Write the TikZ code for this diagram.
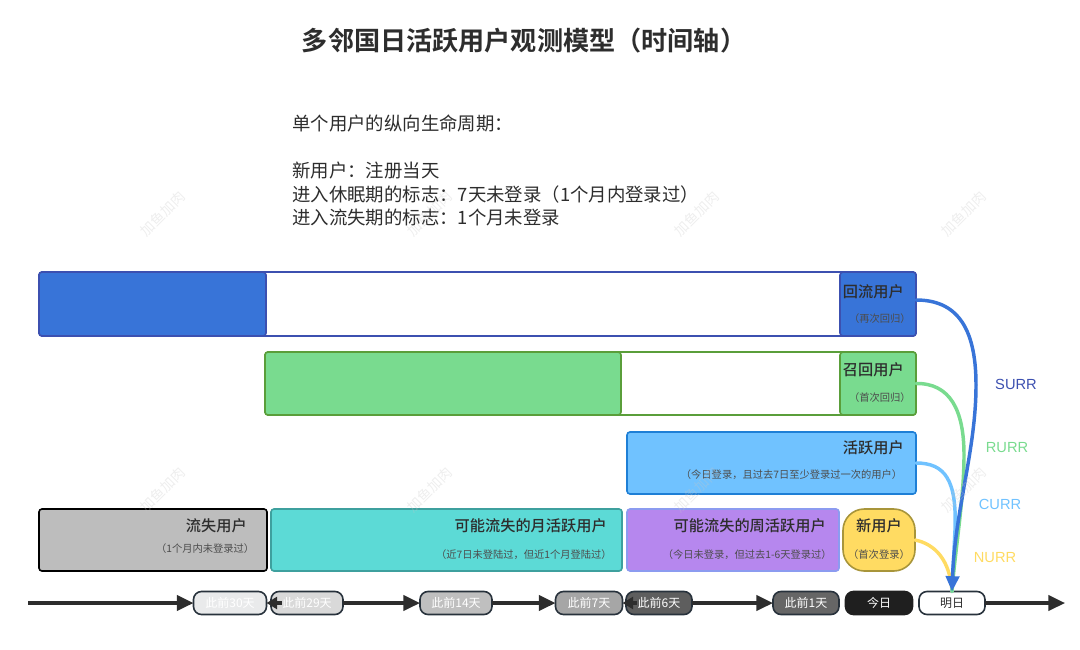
\documentclass[tikz,border=0pt]{standalone}
\usepackage{fontspec}
\usepackage{xcolor}
\setmainfont[BoldFont={Noto Sans CJK SC Medium}]{Noto Sans CJK SC}
\newfontfamily\titlefont{Noto Sans CJK SC Bold}
\newfontfamily\latinfont{Liberation Sans}
\usetikzlibrary{arrows.meta}
\definecolor{cBlue}{RGB}{56,116,216}
\definecolor{cBlueEdge}{RGB}{60,80,176}
\definecolor{cGreen}{RGB}{121,219,143}
\definecolor{cGreenEdge}{RGB}{90,158,58}
\definecolor{cSky}{RGB}{112,194,255}
\definecolor{cSkyEdge}{RGB}{30,127,214}
\definecolor{cTeal}{RGB}{92,218,214}
\definecolor{cTealEdge}{RGB}{62,160,158}
\definecolor{cPurple}{RGB}{182,135,238}
\definecolor{cPurpleEdge}{RGB}{140,155,240}
\definecolor{cYellow}{RGB}{255,219,98}
\definecolor{cYellowEdge}{RGB}{168,149,58}
\definecolor{cInk}{RGB}{45,45,45}
\definecolor{cPill}{RGB}{40,50,60}
\tikzset{
    userbox/.style={draw, rounded corners=2.25pt, line width=1.2pt, inner sep=0pt, outer sep=0pt, anchor=north west},
    headtext/.style={inner sep=0pt, text=cInk, font=\fontsize{11.4}{13}\selectfont\bfseries},
    subtext/.style={inner sep=0pt, text=cInk!85, font=\fontsize{7.7}{10}\selectfont},
    pill/.style={draw=cPill, rounded corners=6pt, line width=1.2pt, inner sep=0pt, outer sep=0pt, anchor=west,
        minimum height=23*0.75pt, text=white, font=\fontsize{9}{11}\selectfont},
    axisline/.style={line width=2.5pt, draw=cInk, -{Triangle[length=12.5pt,width=11.5pt]}},
    rate/.style={inner sep=0pt, font=\fontsize{11}{13}\selectfont\latinfont},
    flow/.style={line width=2.6pt, line cap=round},
    stamp/.style={inner sep=0pt, rotate=45, text=gray!45, opacity=0.3, font=\fontsize{10.5}{12}\selectfont}
}
\begin{document}
\begin{tikzpicture}[x=0.75pt, y=-0.75pt]
        \useasboundingbox (0,0) rectangle (1080,649);
        \node[inner sep=0pt, text=cInk, font=\fontsize{19.6}{24}\selectfont\titlefont] (title) at (524,41) {多邻国日活跃用户观测模型（时间轴）};
        \node[inner sep=0pt, anchor=north west, align=left, text=cInk, font=\fontsize{13.8}{17.6}\selectfont] (note) at (292,115) {单个用户的纵向生命周期：\\[17.6pt]新用户：注册当天\\进入休眠期的标志：7天未登录（1个月内登录过）\\进入流失期的标志：1个月未登录};

        % returning row
        \node[userbox, draw=cBlueEdge, fill=white, minimum width=877*0.75pt, minimum height=64*0.75pt] (backFrame) at (39,272) {};
        \node[userbox, draw=cBlueEdge, fill=cBlue, minimum width=227*0.75pt, minimum height=64*0.75pt] (backOld) at (39,272) {};
        \node[userbox, draw=cBlueEdge, fill=cBlue, minimum width=76*0.75pt, minimum height=64*0.75pt] (backNow) at (840,272) {};
        \node[headtext, anchor=east] (backHead) at (904,292) {回流用户};
        \node[subtext, anchor=east] (backSub) at (911,319) {（再次回归）};

        % recalled row
        \node[userbox, draw=cGreenEdge, fill=white, minimum width=651*0.75pt, minimum height=63*0.75pt] (recallFrame) at (265,352) {};
        \node[userbox, draw=cGreenEdge, fill=cGreen, minimum width=356*0.75pt, minimum height=63*0.75pt] (recallOld) at (265,352) {};
        \node[userbox, draw=cGreenEdge, fill=cGreen, minimum width=76*0.75pt, minimum height=63*0.75pt] (recallNow) at (840,352) {};
        \node[headtext, anchor=east] (recallHead) at (904,370) {召回用户};
        \node[subtext, anchor=east] (recallSub) at (911,398) {（首次回归）};

        % active row
        \node[userbox, draw=cSkyEdge, fill=cSky, minimum width=289*0.75pt, minimum height=62*0.75pt] (activeBox) at (627,432) {};
        \node[headtext, anchor=east] (activeHead) at (904,448) {活跃用户};
        \node[subtext, anchor=east] (activeSub) at (902.5,475) {（今日登录，且过去7日至少登录过一次的用户）};

        % bottom row
        \node[userbox, draw=black, fill=black!26, minimum width=228*0.75pt, minimum height=62*0.75pt] (lostBox) at (39,509) {};
        \node[headtext, anchor=east] (lostHead) at (247,526) {流失用户};
        \node[subtext, anchor=east] (lostSub) at (254.5,549) {（1个月内未登录过）};
        \node[userbox, draw=cTealEdge, fill=cTeal, minimum width=351*0.75pt, minimum height=62*0.75pt] (monthBox) at (271,509) {};
        \node[headtext, anchor=east] (monthHead) at (607,526) {可能流失的月活跃用户};
        \node[subtext, anchor=east] (monthSub) at (612,555) {（近7日未登陆过，但近1个月登陆过）};
        \node[userbox, draw=cPurpleEdge, fill=cPurple, minimum width=212*0.75pt, minimum height=62*0.75pt] (weekBox) at (627,509) {};
        \node[headtext, anchor=east] (weekHead) at (826,526) {可能流失的周活跃用户};
        \node[subtext, anchor=east] (weekSub) at (832,555) {（今日未登录，但过去1-6天登录过）};
        \node[userbox, rounded corners=16pt, draw=cYellowEdge, fill=cYellow, minimum width=72*0.75pt, minimum height=62*0.75pt] (newBox) at (843,509) {};
        \node[headtext] (newHead) at (879,526) {新用户};
        \node[subtext] (newSub) at (879,555) {（首次登录）};

        % timeline
        \coordinate (axisStart) at (28,603);
        \coordinate (axisEnd) at (1065,603);
        \node[pill, fill=cPill!10, minimum width=73*0.75pt] (day30) at (193.5,603) {此前30天};
        \node[pill, fill=black!15, minimum width=72*0.75pt] (day29) at (271,603) {此前29天};
        \node[pill, fill=black!25, minimum width=72*0.75pt] (day14) at (420,603) {此前14天};
        \node[pill, fill=black!35, minimum width=67*0.75pt] (day7) at (555.5,603) {此前7天};
        \node[pill, fill=black!63, minimum width=66*0.75pt] (day6) at (626,603) {此前6天};
        \node[pill, fill=black!60, minimum width=66*0.75pt] (day1) at (773,603) {此前1天};
        \node[pill, draw=black!88, fill=black!88, minimum width=67*0.75pt] (today) at (845.5,603) {今日};
        \node[pill, fill=white, text=cInk, minimum width=66*0.75pt] (tomorrow) at (919,603) {明日};
        \draw[axisline] (axisStart) -- (day30.west);
        \draw[axisline, -{Triangle[length=8pt,width=9pt]}] ([xshift=8pt]day29.west) -- (day30.east);
        \draw[axisline] (day29.east) -- (day14.west);
        \draw[axisline] (day14.east) -- (day7.west);
        \draw[axisline, -{Triangle[length=8pt,width=9pt]}] ([xshift=8pt]day6.west) -- (day7.east);
        \draw[axisline] (day6.east) -- (day1.west);
        \draw[axisline] (tomorrow.east) -- (axisEnd);

        % flows into tomorrow
        \draw[flow, draw=cYellow] (newBox.east) .. controls (935,544) and (950,560) .. (tomorrow.north);
        \draw[flow, draw=cSky] (activeBox.east) .. controls (945,463) and (957,480) .. (955,530) .. controls (954,550) and (953,570) .. (tomorrow.north);
        \draw[flow, draw=cGreen] (recallNow.east) .. controls (950,383) and (964,410) .. (964,455) .. controls (964,500) and (955,550) .. (tomorrow.north);
        \draw[flow, draw=cBlue, -{Triangle[length=11.5pt,width=10pt]}] ([yshift=3pt]backNow.east) .. controls (955,300) and (976,325) .. (976,385) .. controls (976,450) and (955,510) .. (tomorrow.north);
        \node[rate, text=cBlueEdge] (surrLabel) at (1016,384) {SURR};
        \node[rate, text=cGreen] (rurrLabel) at (1007,448) {RURR};
        \node[rate, text=cSky] (currLabel) at (1000,504) {CURR};
        \node[rate, text=cYellow] (nurrLabel) at (995,558) {NURR};

        % stamps
        \node[stamp] (stampA) at (163,214) {加鱼加肉};
        \node[stamp] (stampB) at (430,214) {加鱼加肉};
        \node[stamp] (stampC) at (697,214) {加鱼加肉};
        \node[stamp] (stampD) at (964,214) {加鱼加肉};
        \node[stamp] (stampE) at (163,490) {加鱼加肉};
        \node[stamp] (stampF) at (430,490) {加鱼加肉};
        \node[stamp] (stampG) at (697,490) {加鱼加肉};
        \node[stamp] (stampH) at (964,490) {加鱼加肉};
        \end{tikzpicture}
\end{document}
